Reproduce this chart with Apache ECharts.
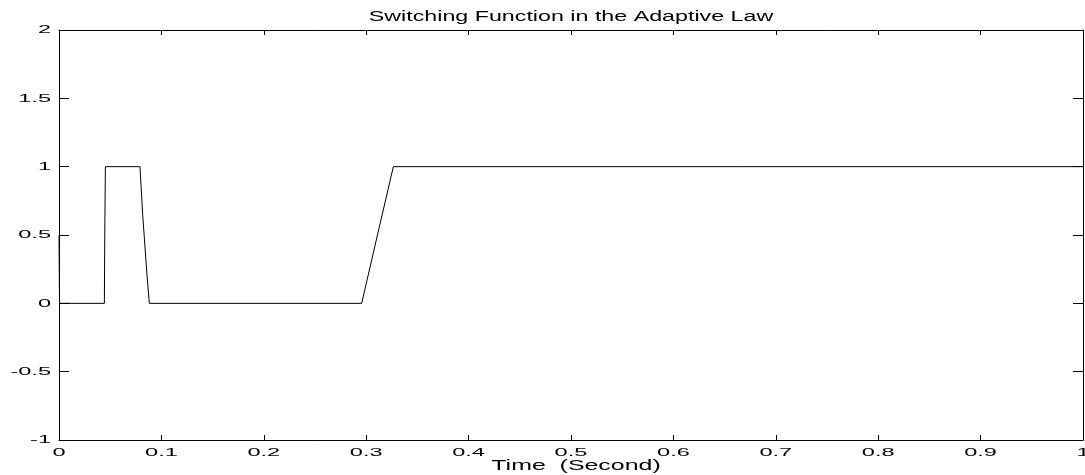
<!DOCTYPE html>
<html>
<head>
<meta charset="utf-8">
<script src="https://cdn.jsdelivr.net/npm/echarts@6/dist/echarts.min.js"></script>
<style>html,body{margin:0;padding:0;background:#fff;}#c{width:1085px;height:475px;}</style>
</head>
<body>
<div id="c"></div>
<script>
const titleText = 'Switching Function in the Adaptive Law';
const xAxisName = 'Time  (Second)';
const timeValues = [0, 0.0005, 0.0443, 0.0447, 0.0453, 0.0791, 0.0817, 0.0860, 0.0882, 0.2956, 0.3110, 0.3265, 1.0];
const switchValues = [0.5, 0, 0, 0.5, 1, 1, 0.65, 0.2, 0, 0, 0.5, 1, 1];
const xTicks = [0, 0.1, 0.2, 0.3, 0.4, 0.5, 0.6, 0.7, 0.8, 0.9, 1];
const xTickLabels = ['0', '0.1', '0.2', '0.3', '0.4', '0.5', '0.6', '0.7', '0.8', '0.9', '1'];
const yTicks = [-1, -0.5, 0, 0.5, 1, 1.5, 2];
const yTickLabels = ['-1', '-0.5', '0', '0.5', '1', '1.5', '2'];

const data = timeValues.map((t, i) => [t, switchValues[i]]);
const fam = '"Liberation Sans", Arial, Helvetica, sans-serif';
const chart = echarts.init(document.getElementById('c'), null, {renderer: 'canvas'});
const axisLine = {show: true, onZero: false, lineStyle: {color: '#000', width: 1}};
const xTick = {show: true, inside: true, length: 5, lineStyle: {color: '#000', width: 1}};
const yTick = {show: true, inside: true, length: 10, lineStyle: {color: '#000', width: 1}};
const xCommon = {type: 'value', min: xTicks[0], max: xTicks[xTicks.length - 1], interval: 0.1,
  axisLine: axisLine, axisTick: xTick, axisLabel: {show: false}, splitLine: {show: false}};
const yCommon = {type: 'value', min: yTicks[0], max: yTicks[yTicks.length - 1], interval: 0.5,
  axisLine: axisLine, axisTick: yTick, axisLabel: {show: false}, splitLine: {show: false}};
chart.setOption({
  animation: false,
  backgroundColor: '#fff',
  grid: {left: 59, right: 2, top: 30, bottom: 35, containLabel: false, outerBoundsMode: 'none'},
  xAxis: [Object.assign({position: 'bottom'}, xCommon), Object.assign({position: 'top'}, xCommon)],
  yAxis: [Object.assign({position: 'left'}, yCommon), Object.assign({position: 'right'}, yCommon)],
  series: [{
    type: 'line', data: data, xAxisIndex: 0, yAxisIndex: 0,
    showSymbol: false, symbol: 'none',
    lineStyle: {color: '#000', width: 1}
  }]
});

// Text is horizontally stretched in the reference; draw it as scaled text positioned by the axes.
const gridLeft = chart.convertToPixel({xAxisIndex: 0}, xTicks[0]);
const gridRight = chart.convertToPixel({xAxisIndex: 0}, xTicks[xTicks.length - 1]);
const gridBottom = chart.convertToPixel({yAxisIndex: 0}, yTicks[0]);
const gridTop = chart.convertToPixel({yAxisIndex: 0}, yTicks[yTicks.length - 1]);
const els = [];
xTicks.forEach((v, i) => {
  els.push({type: 'text', x: chart.convertToPixel({xAxisIndex: 0}, v), y: gridBottom + 6.5, scaleX: 2.05,
    style: {text: xTickLabels[i], font: '11.5px ' + fam, fill: '#000', align: 'center', verticalAlign: 'top'}});
});
yTicks.forEach((v, i) => {
  els.push({type: 'text', x: gridLeft - 8, y: chart.convertToPixel({yAxisIndex: 0}, v), scaleX: 2.05,
    style: {text: yTickLabels[i], font: '11.5px ' + fam, fill: '#000', align: 'right', verticalAlign: 'middle'}});
});
els.push({type: 'text', x: (gridLeft + gridRight) / 2 + 5, y: gridBottom + 26, scaleX: 1.78,
  style: {text: xAxisName, font: '14px ' + fam, fill: '#000', align: 'center', verticalAlign: 'middle'}});
els.push({type: 'text', x: (gridLeft + gridRight) / 2, y: gridTop - 13, scaleX: 1.66,
  style: {text: titleText, font: '14px ' + fam, fill: '#000', align: 'center', verticalAlign: 'middle'}});
chart.setOption({graphic: {elements: els}});
</script>
</body>
</html>
